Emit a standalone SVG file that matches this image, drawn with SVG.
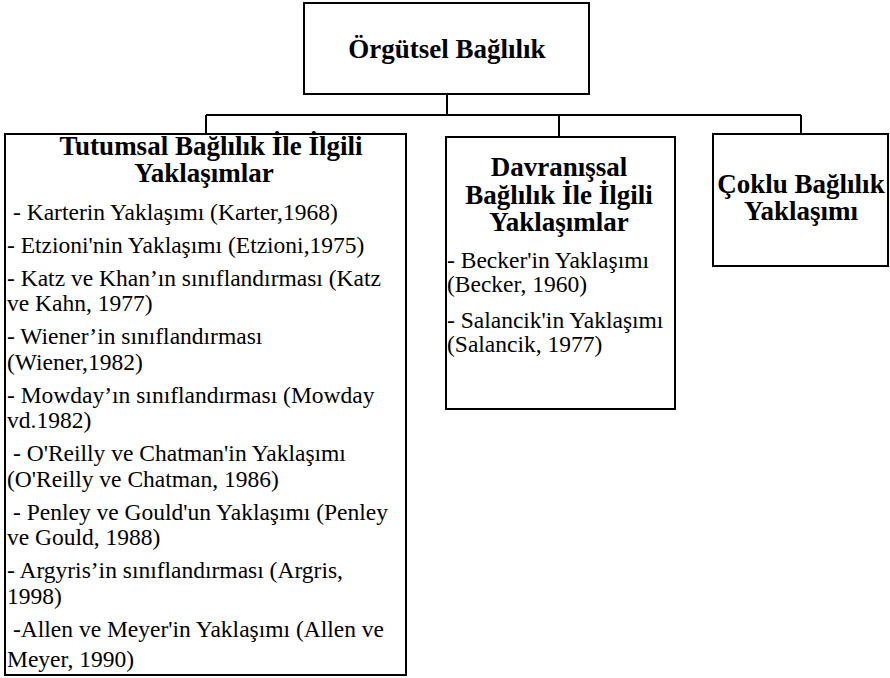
<svg xmlns="http://www.w3.org/2000/svg" width="890" height="678" viewBox="0 0 890 678">
<style>
.box{fill:#fff;stroke:#000;stroke-width:2}
.h{font-weight:bold;text-anchor:middle}
</style>
<rect width="890" height="678" fill="#fff"/>
<g id="connectors" fill="none" stroke="#000" stroke-width="2">
<path d="M447 94V115M206 115H801M206 115V134M559 115V137M801 115V134"/>
</g>
<g id="root">
<rect class="box" x="304" y="3" width="285" height="91"/>
<text class="h" x="447" y="58" font-family="Liberation Serif, serif" font-size="27">Örgütsel Bağlılık</text>
</g>
<g id="tutumsal">
<rect class="box" x="5" y="134" width="401" height="541"/>
<text class="h" x="211" y="155" font-family="Liberation Serif, serif" font-size="27">Tutumsal Bağlılık İle İlgili</text>
<text class="h" x="204" y="182" font-family="Liberation Serif, serif" font-size="27">Yaklaşımlar</text>
<text x="13" y="220" font-family="Liberation Serif, serif" font-size="23.5">- Karterin Yaklaşımı (Karter,1968)</text>
<text x="7" y="253" font-family="Liberation Serif, serif" font-size="23.5">- Etzioni'nin Yaklaşımı (Etzioni,1975)</text>
<text x="7" y="286" font-family="Liberation Serif, serif" font-size="23.5">- Katz ve Khan’ın sınıflandırması (Katz</text>
<text x="7" y="311" font-family="Liberation Serif, serif" font-size="23.5">ve Kahn, 1977)</text>
<text x="7" y="344" font-family="Liberation Serif, serif" font-size="23.5">- Wiener’in sınıflandırması</text>
<text x="7" y="370" font-family="Liberation Serif, serif" font-size="23.5">(Wiener,1982)</text>
<text x="7" y="403" font-family="Liberation Serif, serif" font-size="23.5">- Mowday’ın sınıflandırması (Mowday</text>
<text x="7" y="428" font-family="Liberation Serif, serif" font-size="23.5">vd.1982)</text>
<text x="13" y="461" font-family="Liberation Serif, serif" font-size="23.5">- O'Reilly ve Chatman'in Yaklaşımı</text>
<text x="7" y="487" font-family="Liberation Serif, serif" font-size="23.5">(O'Reilly ve Chatman, 1986)</text>
<text x="13" y="520" font-family="Liberation Serif, serif" font-size="23.5">- Penley ve Gould'un Yaklaşımı (Penley</text>
<text x="7" y="545" font-family="Liberation Serif, serif" font-size="23.5">ve Gould, 1988)</text>
<text x="7" y="578" font-family="Liberation Serif, serif" font-size="23.5">- Argyris’in sınıflandırması (Argris,</text>
<text x="7" y="604" font-family="Liberation Serif, serif" font-size="23.5">1998)</text>
<text x="13" y="637" font-family="Liberation Serif, serif" font-size="23.5">-Allen ve Meyer'in Yaklaşımı (Allen ve</text>
<text x="7" y="667" font-family="Liberation Serif, serif" font-size="23.5">Meyer, 1990)</text>
</g>
<g id="davranissal">
<rect class="box" x="446" y="137" width="229" height="272"/>
<text class="h" x="559" y="176" font-family="Liberation Serif, serif" font-size="27">Davranışsal</text>
<text class="h" x="559" y="204" font-family="Liberation Serif, serif" font-size="27">Bağlılık İle İlgili</text>
<text class="h" x="559" y="231" font-family="Liberation Serif, serif" font-size="27">Yaklaşımlar</text>
<text x="447" y="268" font-family="Liberation Serif, serif" font-size="23.5">- Becker'in Yaklaşımı</text>
<text x="447" y="292" font-family="Liberation Serif, serif" font-size="23.5">(Becker, 1960)</text>
<text x="447" y="328" font-family="Liberation Serif, serif" font-size="23.5">- Salancik'in Yaklaşımı</text>
<text x="447" y="352" font-family="Liberation Serif, serif" font-size="23.5">(Salancik, 1977)</text>
</g>
<g id="coklu">
<rect class="box" x="713" y="134" width="175" height="132"/>
<text class="h" x="801" y="193" font-family="Liberation Serif, serif" font-size="27">Çoklu Bağlılık</text>
<text class="h" x="801" y="220" font-family="Liberation Serif, serif" font-size="27">Yaklaşımı</text>
</g>
</svg>
